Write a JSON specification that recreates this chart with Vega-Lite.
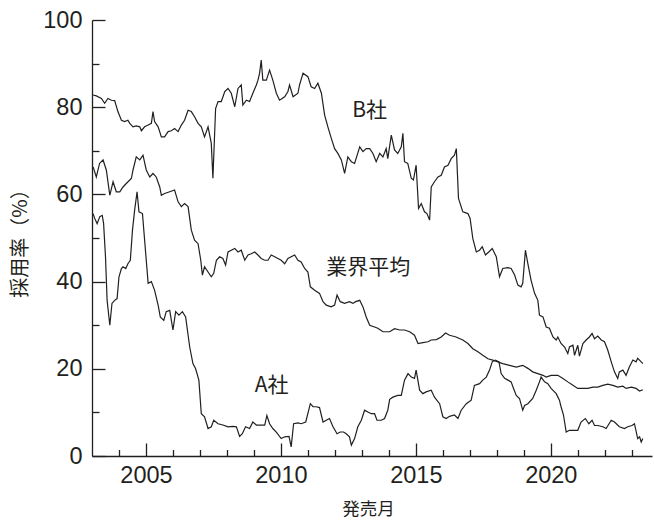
{
  "$schema": "https://vega.github.io/schema/vega-lite/v6.json",
  "width": 560,
  "height": 436,
  "autosize": "none",
  "padding": {"left": 92, "top": 20, "right": 2, "bottom": 66},
  "background": "white",
  "config": {"view": {"stroke": null}},
  "resolve": {"axis": {"x": "independent", "y": "independent"}},
  "layer": [
    {
      "data": {"values": [
        {"series":"B","year":2003.04,"rate":82.8},{"series":"B","year":2003.16,"rate":82.6},{"series":"B","year":2003.35,"rate":82.0},{"series":"B","year":2003.47,"rate":80.9},{"series":"B","year":2003.59,"rate":82.0},{"series":"B","year":2003.72,"rate":81.6},{"series":"B","year":2003.84,"rate":81.5},{"series":"B","year":2003.96,"rate":79.0},{"series":"B","year":2004.09,"rate":77.0},{"series":"B","year":2004.21,"rate":76.7},{"series":"B","year":2004.33,"rate":77.0},{"series":"B","year":2004.40,"rate":76.3},{"series":"B","year":2004.52,"rate":75.5},{"series":"B","year":2004.64,"rate":75.7},{"series":"B","year":2004.77,"rate":75.5},{"series":"B","year":2004.83,"rate":74.6},{"series":"B","year":2004.95,"rate":75.5},{"series":"B","year":2005.08,"rate":75.9},{"series":"B","year":2005.20,"rate":76.3},{"series":"B","year":2005.26,"rate":79.0},{"series":"B","year":2005.32,"rate":76.7},{"series":"B","year":2005.45,"rate":75.5},{"series":"B","year":2005.57,"rate":73.2},{"series":"B","year":2005.69,"rate":73.2},{"series":"B","year":2005.82,"rate":74.4},{"series":"B","year":2005.94,"rate":74.6},{"series":"B","year":2006.06,"rate":75.1},{"series":"B","year":2006.19,"rate":74.4},{"series":"B","year":2006.31,"rate":75.9},{"series":"B","year":2006.43,"rate":77.0},{"series":"B","year":2006.56,"rate":79.3},{"series":"B","year":2006.68,"rate":79.0},{"series":"B","year":2006.80,"rate":77.8},{"series":"B","year":2006.93,"rate":76.3},{"series":"B","year":2007.05,"rate":75.5},{"series":"B","year":2007.17,"rate":73.2},{"series":"B","year":2007.30,"rate":75.5},{"series":"B","year":2007.42,"rate":71.7},{"series":"B","year":2007.48,"rate":63.7},{"series":"B","year":2007.58,"rate":79.7},{"series":"B","year":2007.67,"rate":81.3},{"series":"B","year":2007.79,"rate":81.3},{"series":"B","year":2007.92,"rate":83.6},{"series":"B","year":2008.04,"rate":84.3},{"series":"B","year":2008.16,"rate":83.2},{"series":"B","year":2008.29,"rate":80.1},{"series":"B","year":2008.41,"rate":84.3},{"series":"B","year":2008.53,"rate":85.1},{"series":"B","year":2008.59,"rate":80.5},{"series":"B","year":2008.72,"rate":81.6},{"series":"B","year":2008.84,"rate":81.3},{"series":"B","year":2008.96,"rate":83.2},{"series":"B","year":2009.09,"rate":85.1},{"series":"B","year":2009.15,"rate":86.2},{"series":"B","year":2009.21,"rate":87.8},{"series":"B","year":2009.27,"rate":90.8},{"series":"B","year":2009.33,"rate":86.2},{"series":"B","year":2009.46,"rate":86.2},{"series":"B","year":2009.58,"rate":88.5},{"series":"B","year":2009.70,"rate":86.2},{"series":"B","year":2009.83,"rate":83.2},{"series":"B","year":2009.95,"rate":81.6},{"series":"B","year":2010.14,"rate":82.4},{"series":"B","year":2010.26,"rate":83.6},{"series":"B","year":2010.32,"rate":85.1},{"series":"B","year":2010.45,"rate":82.4},{"series":"B","year":2010.63,"rate":83.2},{"series":"B","year":2010.69,"rate":85.1},{"series":"B","year":2010.82,"rate":87.8},{"series":"B","year":2011.00,"rate":87.0},{"series":"B","year":2011.12,"rate":84.7},{"series":"B","year":2011.25,"rate":84.3},{"series":"B","year":2011.37,"rate":85.5},{"series":"B","year":2011.50,"rate":83.2},{"series":"B","year":2011.62,"rate":78.2},{"series":"B","year":2011.74,"rate":75.5},{"series":"B","year":2011.87,"rate":72.8},{"series":"B","year":2011.99,"rate":70.5},{"series":"B","year":2012.11,"rate":69.4},{"series":"B","year":2012.24,"rate":67.9},{"series":"B","year":2012.36,"rate":64.8},{"series":"B","year":2012.48,"rate":68.6},{"series":"B","year":2012.61,"rate":67.5},{"series":"B","year":2012.73,"rate":67.1},{"series":"B","year":2012.92,"rate":70.9},{"series":"B","year":2013.04,"rate":69.8},{"series":"B","year":2013.16,"rate":70.5},{"series":"B","year":2013.29,"rate":70.5},{"series":"B","year":2013.41,"rate":69.4},{"series":"B","year":2013.53,"rate":67.5},{"series":"B","year":2013.66,"rate":69.4},{"series":"B","year":2013.78,"rate":68.6},{"series":"B","year":2013.90,"rate":70.5},{"series":"B","year":2013.96,"rate":68.2},{"series":"B","year":2014.09,"rate":73.6},{"series":"B","year":2014.21,"rate":70.2},{"series":"B","year":2014.33,"rate":69.4},{"series":"B","year":2014.46,"rate":70.9},{"series":"B","year":2014.52,"rate":74.0},{"series":"B","year":2014.58,"rate":67.5},{"series":"B","year":2014.70,"rate":67.1},{"series":"B","year":2014.83,"rate":63.7},{"series":"B","year":2014.91,"rate":63.3},{"series":"B","year":2015.01,"rate":66.7},{"series":"B","year":2015.10,"rate":56.8},{"series":"B","year":2015.20,"rate":57.9},{"series":"B","year":2015.32,"rate":56.0},{"series":"B","year":2015.41,"rate":55.6},{"series":"B","year":2015.51,"rate":54.1},{"series":"B","year":2015.57,"rate":61.7},{"series":"B","year":2015.69,"rate":62.9},{"series":"B","year":2015.82,"rate":64.0},{"series":"B","year":2015.94,"rate":64.4},{"series":"B","year":2016.06,"rate":66.3},{"series":"B","year":2016.19,"rate":66.7},{"series":"B","year":2016.31,"rate":68.2},{"series":"B","year":2016.43,"rate":69.0},{"series":"B","year":2016.50,"rate":70.5},{"series":"B","year":2016.58,"rate":59.1},{"series":"B","year":2016.74,"rate":56.0},{"series":"B","year":2016.93,"rate":55.6},{"series":"B","year":2017.01,"rate":54.5},{"series":"B","year":2017.11,"rate":49.9},{"series":"B","year":2017.24,"rate":46.8},{"series":"B","year":2017.36,"rate":47.2},{"series":"B","year":2017.46,"rate":48.0},{"series":"B","year":2017.58,"rate":46.1},{"series":"B","year":2017.70,"rate":46.8},{"series":"B","year":2017.83,"rate":47.6},{"series":"B","year":2017.98,"rate":45.7},{"series":"B","year":2018.10,"rate":41.1},{"series":"B","year":2018.22,"rate":43.0},{"series":"B","year":2018.41,"rate":43.2},{"series":"B","year":2018.53,"rate":43.0},{"series":"B","year":2018.66,"rate":41.5},{"series":"B","year":2018.78,"rate":39.2},{"series":"B","year":2018.90,"rate":38.8},{"series":"B","year":2018.96,"rate":39.6},{"series":"B","year":2019.06,"rate":47.2},{"series":"B","year":2019.15,"rate":44.1},{"series":"B","year":2019.27,"rate":40.3},{"series":"B","year":2019.40,"rate":37.3},{"series":"B","year":2019.52,"rate":35.7},{"series":"B","year":2019.58,"rate":32.3},{"series":"B","year":2019.71,"rate":31.9},{"series":"B","year":2019.83,"rate":29.6},{"series":"B","year":2019.95,"rate":29.3},{"series":"B","year":2020.08,"rate":27.3},{"series":"B","year":2020.20,"rate":26.6},{"series":"B","year":2020.26,"rate":27.3},{"series":"B","year":2020.38,"rate":25.8},{"series":"B","year":2020.51,"rate":25.0},{"series":"B","year":2020.63,"rate":23.5},{"series":"B","year":2020.69,"rate":25.0},{"series":"B","year":2020.82,"rate":25.4},{"series":"B","year":2020.88,"rate":23.1},{"series":"B","year":2021.00,"rate":25.4},{"series":"B","year":2021.06,"rate":22.9},{"series":"B","year":2021.19,"rate":25.8},{"series":"B","year":2021.31,"rate":26.6},{"series":"B","year":2021.43,"rate":27.3},{"series":"B","year":2021.53,"rate":28.1},{"series":"B","year":2021.62,"rate":26.9},{"series":"B","year":2021.74,"rate":27.5},{"series":"B","year":2021.87,"rate":26.6},{"series":"B","year":2021.99,"rate":26.2},{"series":"B","year":2022.11,"rate":24.3},{"series":"B","year":2022.24,"rate":21.6},{"series":"B","year":2022.36,"rate":19.3},{"series":"B","year":2022.48,"rate":17.8},{"series":"B","year":2022.54,"rate":19.3},{"series":"B","year":2022.67,"rate":19.7},{"series":"B","year":2022.79,"rate":18.5},{"series":"B","year":2022.91,"rate":20.4},{"series":"B","year":2023.04,"rate":22.0},{"series":"B","year":2023.16,"rate":21.6},{"series":"B","year":2023.22,"rate":22.4},{"series":"B","year":2023.35,"rate":21.6},{"series":"B","year":2023.41,"rate":21.2},

        {"series":"Avg","year":2003.04,"rate":66.3},{"series":"Avg","year":2003.16,"rate":64.0},{"series":"Avg","year":2003.28,"rate":67.1},{"series":"Avg","year":2003.41,"rate":67.9},{"series":"Avg","year":2003.53,"rate":65.6},{"series":"Avg","year":2003.66,"rate":59.8},{"series":"Avg","year":2003.78,"rate":62.9},{"series":"Avg","year":2003.90,"rate":60.6},{"series":"Avg","year":2004.03,"rate":60.6},{"series":"Avg","year":2004.15,"rate":61.7},{"series":"Avg","year":2004.27,"rate":62.5},{"series":"Avg","year":2004.40,"rate":63.3},{"series":"Avg","year":2004.46,"rate":63.7},{"series":"Avg","year":2004.52,"rate":65.6},{"series":"Avg","year":2004.64,"rate":68.6},{"series":"Avg","year":2004.77,"rate":67.9},{"series":"Avg","year":2004.89,"rate":69.0},{"series":"Avg","year":2005.01,"rate":65.6},{"series":"Avg","year":2005.14,"rate":64.0},{"series":"Avg","year":2005.26,"rate":64.8},{"series":"Avg","year":2005.38,"rate":64.0},{"series":"Avg","year":2005.51,"rate":61.7},{"series":"Avg","year":2005.57,"rate":59.8},{"series":"Avg","year":2005.69,"rate":60.2},{"series":"Avg","year":2005.88,"rate":60.6},{"series":"Avg","year":2006.06,"rate":61.0},{"series":"Avg","year":2006.19,"rate":58.3},{"series":"Avg","year":2006.31,"rate":57.2},{"series":"Avg","year":2006.43,"rate":57.9},{"series":"Avg","year":2006.56,"rate":57.2},{"series":"Avg","year":2006.68,"rate":51.8},{"series":"Avg","year":2006.80,"rate":49.5},{"series":"Avg","year":2006.93,"rate":48.7},{"series":"Avg","year":2007.03,"rate":44.9},{"series":"Avg","year":2007.09,"rate":41.5},{"series":"Avg","year":2007.17,"rate":43.4},{"series":"Avg","year":2007.30,"rate":42.2},{"series":"Avg","year":2007.42,"rate":41.1},{"series":"Avg","year":2007.51,"rate":41.9},{"series":"Avg","year":2007.61,"rate":44.9},{"series":"Avg","year":2007.73,"rate":45.7},{"series":"Avg","year":2007.85,"rate":45.3},{"series":"Avg","year":2007.95,"rate":43.8},{"series":"Avg","year":2008.04,"rate":46.8},{"series":"Avg","year":2008.16,"rate":47.2},{"series":"Avg","year":2008.29,"rate":47.6},{"series":"Avg","year":2008.41,"rate":46.8},{"series":"Avg","year":2008.53,"rate":47.2},{"series":"Avg","year":2008.66,"rate":44.9},{"series":"Avg","year":2008.78,"rate":46.1},{"series":"Avg","year":2008.90,"rate":46.4},{"series":"Avg","year":2009.03,"rate":46.8},{"series":"Avg","year":2009.15,"rate":46.1},{"series":"Avg","year":2009.27,"rate":45.3},{"series":"Avg","year":2009.40,"rate":44.9},{"series":"Avg","year":2009.52,"rate":44.9},{"series":"Avg","year":2009.64,"rate":46.1},{"series":"Avg","year":2009.77,"rate":45.7},{"series":"Avg","year":2009.89,"rate":45.3},{"series":"Avg","year":2010.01,"rate":44.9},{"series":"Avg","year":2010.14,"rate":44.1},{"series":"Avg","year":2010.26,"rate":45.3},{"series":"Avg","year":2010.38,"rate":45.7},{"series":"Avg","year":2010.51,"rate":46.1},{"series":"Avg","year":2010.63,"rate":44.9},{"series":"Avg","year":2010.75,"rate":44.5},{"series":"Avg","year":2010.88,"rate":43.0},{"series":"Avg","year":2011.00,"rate":42.2},{"series":"Avg","year":2011.09,"rate":38.8},{"series":"Avg","year":2011.25,"rate":38.0},{"series":"Avg","year":2011.43,"rate":37.3},{"series":"Avg","year":2011.56,"rate":35.4},{"series":"Avg","year":2011.68,"rate":34.6},{"series":"Avg","year":2011.86,"rate":34.2},{"series":"Avg","year":2011.99,"rate":34.6},{"series":"Avg","year":2012.08,"rate":36.9},{"series":"Avg","year":2012.20,"rate":35.4},{"series":"Avg","year":2012.36,"rate":35.0},{"series":"Avg","year":2012.54,"rate":35.4},{"series":"Avg","year":2012.67,"rate":35.0},{"series":"Avg","year":2012.77,"rate":35.4},{"series":"Avg","year":2012.92,"rate":35.7},{"series":"Avg","year":2013.04,"rate":34.2},{"series":"Avg","year":2013.16,"rate":31.9},{"series":"Avg","year":2013.29,"rate":30.0},{"series":"Avg","year":2013.47,"rate":29.6},{"series":"Avg","year":2013.59,"rate":29.3},{"series":"Avg","year":2013.78,"rate":28.5},{"series":"Avg","year":2013.90,"rate":28.5},{"series":"Avg","year":2014.03,"rate":28.5},{"series":"Avg","year":2014.21,"rate":29.2},{"series":"Avg","year":2014.40,"rate":28.9},{"series":"Avg","year":2014.58,"rate":28.9},{"series":"Avg","year":2014.77,"rate":28.5},{"series":"Avg","year":2014.95,"rate":27.7},{"series":"Avg","year":2015.08,"rate":25.8},{"series":"Avg","year":2015.26,"rate":26.0},{"series":"Avg","year":2015.45,"rate":26.2},{"series":"Avg","year":2015.57,"rate":26.6},{"series":"Avg","year":2015.76,"rate":26.7},{"series":"Avg","year":2015.94,"rate":27.3},{"series":"Avg","year":2016.10,"rate":28.2},{"series":"Avg","year":2016.25,"rate":27.7},{"series":"Avg","year":2016.49,"rate":27.3},{"series":"Avg","year":2016.74,"rate":26.6},{"series":"Avg","year":2016.93,"rate":25.8},{"series":"Avg","year":2017.11,"rate":24.6},{"series":"Avg","year":2017.30,"rate":23.9},{"series":"Avg","year":2017.48,"rate":23.1},{"series":"Avg","year":2017.67,"rate":22.3},{"series":"Avg","year":2017.85,"rate":22.0},{"series":"Avg","year":2018.04,"rate":21.6},{"series":"Avg","year":2018.22,"rate":21.2},{"series":"Avg","year":2018.47,"rate":20.8},{"series":"Avg","year":2018.72,"rate":20.4},{"series":"Avg","year":2018.96,"rate":20.8},{"series":"Avg","year":2019.15,"rate":20.1},{"series":"Avg","year":2019.33,"rate":19.3},{"series":"Avg","year":2019.52,"rate":18.9},{"series":"Avg","year":2019.71,"rate":18.5},{"series":"Avg","year":2019.83,"rate":18.1},{"series":"Avg","year":2020.01,"rate":18.5},{"series":"Avg","year":2020.26,"rate":18.5},{"series":"Avg","year":2020.45,"rate":17.8},{"series":"Avg","year":2020.63,"rate":17.0},{"series":"Avg","year":2020.82,"rate":16.2},{"series":"Avg","year":2021.00,"rate":15.5},{"series":"Avg","year":2021.12,"rate":15.5},{"series":"Avg","year":2021.37,"rate":15.5},{"series":"Avg","year":2021.56,"rate":15.8},{"series":"Avg","year":2021.74,"rate":15.8},{"series":"Avg","year":2021.93,"rate":16.2},{"series":"Avg","year":2022.11,"rate":16.5},{"series":"Avg","year":2022.30,"rate":16.2},{"series":"Avg","year":2022.48,"rate":15.8},{"series":"Avg","year":2022.67,"rate":16.0},{"series":"Avg","year":2022.79,"rate":15.5},{"series":"Avg","year":2022.98,"rate":15.8},{"series":"Avg","year":2023.16,"rate":15.5},{"series":"Avg","year":2023.29,"rate":14.9},{"series":"Avg","year":2023.41,"rate":15.2},

        {"series":"A","year":2003.04,"rate":55.6},{"series":"A","year":2003.10,"rate":54.5},{"series":"A","year":2003.19,"rate":53.3},{"series":"A","year":2003.29,"rate":54.9},{"series":"A","year":2003.38,"rate":55.2},{"series":"A","year":2003.43,"rate":53.3},{"series":"A","year":2003.50,"rate":45.7},{"series":"A","year":2003.56,"rate":35.7},{"series":"A","year":2003.66,"rate":30.0},{"series":"A","year":2003.74,"rate":35.0},{"series":"A","year":2003.84,"rate":35.7},{"series":"A","year":2003.93,"rate":36.1},{"series":"A","year":2004.00,"rate":41.1},{"series":"A","year":2004.09,"rate":43.0},{"series":"A","year":2004.15,"rate":43.4},{"series":"A","year":2004.25,"rate":43.0},{"series":"A","year":2004.33,"rate":44.1},{"series":"A","year":2004.42,"rate":44.9},{"series":"A","year":2004.50,"rate":51.8},{"series":"A","year":2004.58,"rate":56.4},{"series":"A","year":2004.67,"rate":60.6},{"series":"A","year":2004.74,"rate":56.0},{"series":"A","year":2004.87,"rate":55.6},{"series":"A","year":2004.95,"rate":49.5},{"series":"A","year":2005.08,"rate":39.6},{"series":"A","year":2005.20,"rate":40.0},{"series":"A","year":2005.32,"rate":38.0},{"series":"A","year":2005.45,"rate":34.6},{"series":"A","year":2005.53,"rate":31.9},{"series":"A","year":2005.66,"rate":31.1},{"series":"A","year":2005.75,"rate":33.1},{"series":"A","year":2005.88,"rate":33.4},{"series":"A","year":2005.94,"rate":31.1},{"series":"A","year":2006.00,"rate":28.9},{"series":"A","year":2006.10,"rate":33.1},{"series":"A","year":2006.22,"rate":32.3},{"series":"A","year":2006.35,"rate":33.1},{"series":"A","year":2006.47,"rate":31.9},{"series":"A","year":2006.62,"rate":25.0},{"series":"A","year":2006.74,"rate":21.2},{"series":"A","year":2006.84,"rate":20.0},{"series":"A","year":2006.96,"rate":17.4},{"series":"A","year":2007.05,"rate":9.7},{"series":"A","year":2007.17,"rate":9.0},{"series":"A","year":2007.30,"rate":6.3},{"series":"A","year":2007.42,"rate":6.7},{"series":"A","year":2007.51,"rate":8.2},{"series":"A","year":2007.67,"rate":7.4},{"series":"A","year":2007.85,"rate":7.1},{"series":"A","year":2008.04,"rate":6.7},{"series":"A","year":2008.22,"rate":6.8},{"series":"A","year":2008.35,"rate":6.7},{"series":"A","year":2008.47,"rate":4.5},{"series":"A","year":2008.57,"rate":5.1},{"series":"A","year":2008.69,"rate":6.7},{"series":"A","year":2008.84,"rate":6.3},{"series":"A","year":2008.96,"rate":7.8},{"series":"A","year":2009.09,"rate":7.1},{"series":"A","year":2009.24,"rate":7.1},{"series":"A","year":2009.40,"rate":7.1},{"series":"A","year":2009.48,"rate":9.3},{"series":"A","year":2009.58,"rate":7.4},{"series":"A","year":2009.70,"rate":6.3},{"series":"A","year":2009.83,"rate":5.5},{"series":"A","year":2010.01,"rate":4.0},{"series":"A","year":2010.14,"rate":4.4},{"series":"A","year":2010.30,"rate":4.5},{"series":"A","year":2010.38,"rate":2.1},{"series":"A","year":2010.47,"rate":7.4},{"series":"A","year":2010.63,"rate":7.6},{"series":"A","year":2010.75,"rate":7.4},{"series":"A","year":2010.92,"rate":7.8},{"series":"A","year":2011.09,"rate":12.0},{"series":"A","year":2011.19,"rate":11.3},{"series":"A","year":2011.31,"rate":11.3},{"series":"A","year":2011.43,"rate":11.1},{"series":"A","year":2011.56,"rate":7.8},{"series":"A","year":2011.68,"rate":8.2},{"series":"A","year":2011.80,"rate":8.6},{"series":"A","year":2011.93,"rate":6.7},{"series":"A","year":2012.08,"rate":5.1},{"series":"A","year":2012.20,"rate":5.5},{"series":"A","year":2012.32,"rate":5.5},{"series":"A","year":2012.42,"rate":5.1},{"series":"A","year":2012.54,"rate":4.4},{"series":"A","year":2012.61,"rate":2.5},{"series":"A","year":2012.73,"rate":4.0},{"series":"A","year":2012.85,"rate":6.7},{"series":"A","year":2012.98,"rate":8.2},{"series":"A","year":2013.10,"rate":10.5},{"series":"A","year":2013.22,"rate":10.1},{"series":"A","year":2013.35,"rate":9.7},{"series":"A","year":2013.47,"rate":9.7},{"series":"A","year":2013.56,"rate":8.2},{"series":"A","year":2013.72,"rate":8.2},{"series":"A","year":2013.84,"rate":8.6},{"series":"A","year":2013.96,"rate":10.5},{"series":"A","year":2014.03,"rate":13.0},{"series":"A","year":2014.15,"rate":13.5},{"series":"A","year":2014.33,"rate":13.9},{"series":"A","year":2014.46,"rate":13.9},{"series":"A","year":2014.58,"rate":17.4},{"series":"A","year":2014.71,"rate":18.9},{"series":"A","year":2014.83,"rate":18.1},{"series":"A","year":2014.95,"rate":17.8},{"series":"A","year":2015.01,"rate":19.7},{"series":"A","year":2015.14,"rate":15.1},{"series":"A","year":2015.26,"rate":14.3},{"series":"A","year":2015.38,"rate":14.7},{"series":"A","year":2015.57,"rate":15.1},{"series":"A","year":2015.69,"rate":13.5},{"series":"A","year":2015.88,"rate":12.0},{"series":"A","year":2016.00,"rate":9.0},{"series":"A","year":2016.12,"rate":8.6},{"series":"A","year":2016.25,"rate":9.1},{"series":"A","year":2016.43,"rate":9.4},{"series":"A","year":2016.56,"rate":8.6},{"series":"A","year":2016.68,"rate":10.5},{"series":"A","year":2016.87,"rate":12.0},{"series":"A","year":2017.05,"rate":12.8},{"series":"A","year":2017.17,"rate":16.2},{"series":"A","year":2017.36,"rate":16.6},{"series":"A","year":2017.48,"rate":17.4},{"series":"A","year":2017.61,"rate":18.1},{"series":"A","year":2017.73,"rate":19.7},{"series":"A","year":2017.83,"rate":21.6},{"series":"A","year":2017.95,"rate":22.0},{"series":"A","year":2018.08,"rate":21.6},{"series":"A","year":2018.16,"rate":18.9},{"series":"A","year":2018.29,"rate":17.8},{"series":"A","year":2018.41,"rate":17.4},{"series":"A","year":2018.53,"rate":17.0},{"series":"A","year":2018.62,"rate":15.5},{"series":"A","year":2018.72,"rate":13.9},{"series":"A","year":2018.84,"rate":13.2},{"series":"A","year":2018.96,"rate":10.5},{"series":"A","year":2019.03,"rate":11.6},{"series":"A","year":2019.15,"rate":12.0},{"series":"A","year":2019.33,"rate":13.2},{"series":"A","year":2019.46,"rate":15.1},{"series":"A","year":2019.58,"rate":17.0},{"series":"A","year":2019.64,"rate":18.1},{"series":"A","year":2019.77,"rate":17.0},{"series":"A","year":2019.89,"rate":16.6},{"series":"A","year":2020.01,"rate":15.5},{"series":"A","year":2020.20,"rate":14.3},{"series":"A","year":2020.32,"rate":12.8},{"series":"A","year":2020.38,"rate":11.3},{"series":"A","year":2020.47,"rate":9.4},{"series":"A","year":2020.57,"rate":5.5},{"series":"A","year":2020.69,"rate":5.9},{"series":"A","year":2020.82,"rate":5.9},{"series":"A","year":2021.00,"rate":5.9},{"series":"A","year":2021.12,"rate":7.8},{"series":"A","year":2021.28,"rate":8.6},{"series":"A","year":2021.41,"rate":7.4},{"series":"A","year":2021.53,"rate":8.2},{"series":"A","year":2021.62,"rate":7.0},{"series":"A","year":2021.74,"rate":7.0},{"series":"A","year":2021.93,"rate":6.7},{"series":"A","year":2022.05,"rate":6.3},{"series":"A","year":2022.24,"rate":8.2},{"series":"A","year":2022.36,"rate":7.8},{"series":"A","year":2022.54,"rate":6.7},{"series":"A","year":2022.73,"rate":6.3},{"series":"A","year":2022.85,"rate":6.7},{"series":"A","year":2023.01,"rate":7.0},{"series":"A","year":2023.10,"rate":7.4},{"series":"A","year":2023.22,"rate":4.0},{"series":"A","year":2023.29,"rate":4.4},{"series":"A","year":2023.35,"rate":3.2},{"series":"A","year":2023.41,"rate":4.0}
      ]},
      "mark": {"type": "line", "color": "#231f20", "strokeWidth": 1.2},
      "encoding": {
        "x": {
          "field": "year", "type": "quantitative",
          "scale": {"domain": [2003, 2023.75], "nice": false, "zero": false},
          "axis": {
            "orient": "bottom",
            "values": [2005, 2010, 2015, 2020],
            "grid": false,
            "tickSize": -13,
            "format": "d",
            "labelPadding": 20,
            "labelFont": "Liberation Sans", "labelFontSize": 23.5, "labelColor": "#231f20",
            "labelOverlap": false, "labelFlush": false,
            "domainColor": "#231f20", "domainWidth": 1.3, "tickColor": "#231f20", "tickWidth": 1.3,
            "title": "発売月", "titleFont": "Noto Sans CJK JP", "titleFontSize": 17.5, "titleFontWeight": "normal",
            "titleColor": "#231f20", "titleX": 276, "titleY": 53, "titleAlign": "center", "titleBaseline": "middle"
          }
        },
        "y": {
          "field": "rate", "type": "quantitative",
          "scale": {"domain": [0, 100], "nice": false, "zero": true},
          "axis": {
            "orient": "left",
            "values": [0, 20, 40, 60, 80, 100],
            "grid": false,
            "tickSize": -13,
            "labelPadding": 23,
            "labelFont": "Liberation Sans", "labelFontSize": 23.5, "labelColor": "#231f20",
            "labelOverlap": false, "labelFlush": false,
            "domainColor": "#231f20", "domainWidth": 1.3, "tickColor": "#231f20", "tickWidth": 1.3,
            "title": "採用率（%）", "titleFont": "Noto Sans CJK JP", "titleFontSize": 20, "titleFontWeight": "normal",
            "titleColor": "#231f20", "titleAngle": -90, "titleX": -72, "titleY": 218, "titleAlign": "center", "titleBaseline": "middle"
          }
        },
        "detail": {"field": "series", "type": "nominal"}
      }
    },
    {
      "data": {"values": [
        {"label": "B社", "year": 2012.64, "rate": 79.1},
        {"label": "業界平均", "year": 2011.68, "rate": 43.1},
        {"label": "A社", "year": 2009.03, "rate": 16.0}
      ]},
      "mark": {"type": "text", "align": "left", "baseline": "middle", "font": "Noto Sans CJK JP", "fontSize": 21, "color": "#231f20"},
      "encoding": {
        "x": {
          "field": "year", "type": "quantitative",
          "scale": {"domain": [2003, 2023.75], "nice": false, "zero": false},
          "axis": {
            "orient": "bottom",
            "values": [2004,2006,2007,2008,2009,2011,2012,2013,2014,2016,2017,2018,2019,2021,2022,2023],
            "grid": false, "domain": false, "labels": false, "title": null,
            "tickSize": -6.5, "tickColor": "#231f20", "tickWidth": 1.3
          }
        },
        "y": {
          "field": "rate", "type": "quantitative",
          "scale": {"domain": [0, 100], "nice": false, "zero": true},
          "axis": {
            "orient": "left",
            "values": [10, 30, 50, 70, 90],
            "grid": false, "domain": false, "labels": false, "title": null,
            "tickSize": -7, "tickColor": "#231f20", "tickWidth": 1.3
          }
        },
        "text": {"field": "label", "type": "nominal"}
      }
    }
  ]
}
